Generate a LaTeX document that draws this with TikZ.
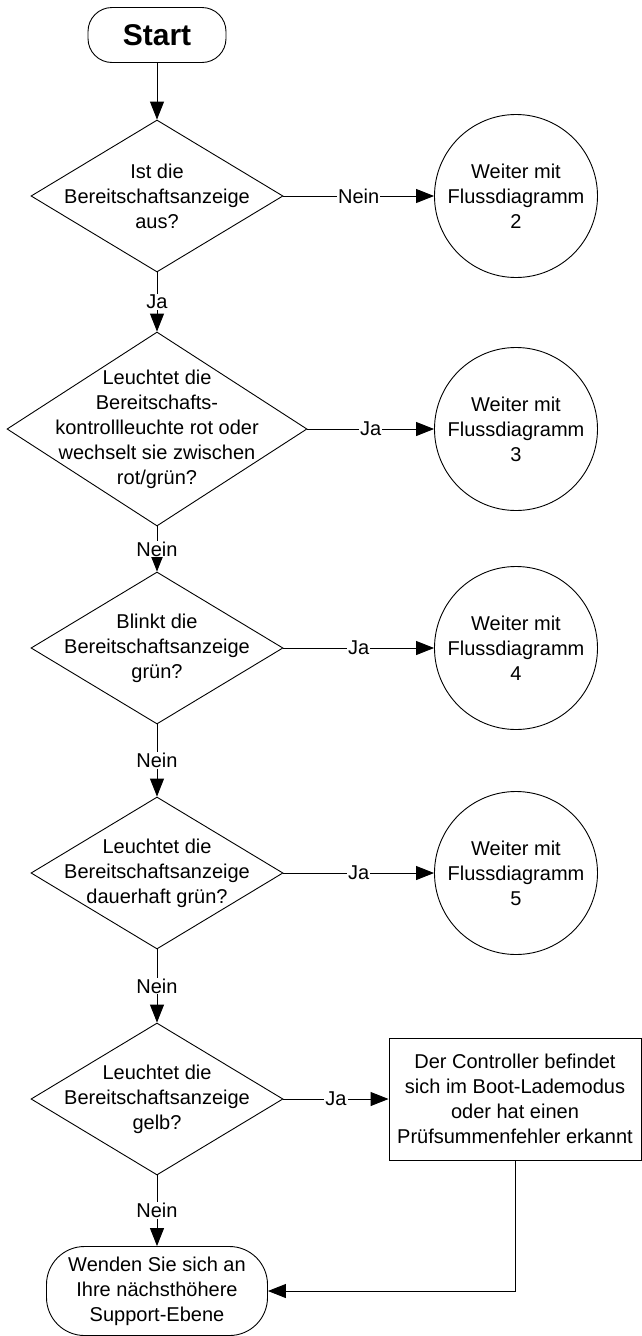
\documentclass[tikz,border=0pt]{standalone}
\usepackage{fontspec}
\setmainfont{Liberation Sans}
\usetikzlibrary{shapes.geometric,arrows.meta}

\begin{document}
\begin{tikzpicture}[x=1pt,y=-1pt,line width=0.9pt,
    font=\fontsize{20}{25}\selectfont,
    terminal/.style={draw,rounded corners=24pt,align=center,inner sep=0pt},
    decision/.style={draw,diamond,inner sep=0pt,minimum width=252pt,minimum height=152pt},
    qtext/.style={align=center,inner sep=0pt},
    flowref/.style={draw,circle,minimum size=163pt,inner sep=0pt,align=center},
    actionbox/.style={draw,rectangle,minimum width=252pt,minimum height=122pt,inner sep=0pt,align=center},
    arrowline/.style={-{Triangle[length=18pt,width=14pt]}},
    answer/.style={midway,fill=white,inner sep=1pt}]
    \useasboundingbox (0,0) rectangle (642,1336);

    % Start und Abfragen
    \node[terminal,minimum width=138pt,minimum height=55pt,font=\fontsize{30}{34}\selectfont\bfseries] (start) at (157,35) {Start};

    \node[decision] (d1) at (157,196) {};
    \node[qtext] (q1) at (d1) {Ist die\\Bereitschaftsanzeige\\aus?};

    \node[decision,minimum width=300pt,minimum height=194pt] (d2) at (157,429) {};
    \node[qtext] (q2) at (d2) {Leuchtet die\\Bereitschafts-\\kontrollleuchte rot oder\\wechselt sie zwischen\\rot/grün?};

    \node[decision] (d3) at (157,648) {};
    \node[qtext] (q3) at (d3) {Blinkt die\\Bereitschaftsanzeige\\grün?};

    \node[decision] (d4) at (157,873) {};
    \node[qtext] (q4) at (d4) {Leuchtet die\\Bereitschaftsanzeige\\dauerhaft grün?};

    \node[decision] (d5) at (157,1099) {};
    \node[qtext] (q5) at (d5) {Leuchtet die\\Bereitschaftsanzeige\\gelb?};

    \node[terminal,rounded corners=38pt,minimum width=221pt,minimum height=89pt] (ende) at (157,1291) {Wenden Sie sich an\\Ihre nächsthöhere\\Support-Ebene};

    % Verweise rechts
    \node[flowref] (c2) at (516,196) {Weiter mit\\Flussdiagramm\\2};
    \node[flowref] (c3) at (516,429) {Weiter mit\\Flussdiagramm\\3};
    \node[flowref] (c4) at (516,648) {Weiter mit\\Flussdiagramm\\4};
    \node[flowref] (c5) at (516,873) {Weiter mit\\Flussdiagramm\\5};
    \node[actionbox] (boot) at (515,1099) {Der Controller befindet\\sich im Boot-Lademodus\\oder hat einen\\Prüfsummenfehler erkannt};

    % Verbindungen
    \draw[arrowline] (start.south) -- (d1.north);
    \draw[arrowline] (d1.east) -- node[answer]{Nein} (c2.west);
    \draw[arrowline] (d1.south) -- node[answer]{Ja} (d2.north);
    \draw[arrowline] (d2.east) -- node[answer]{Ja} (c3.west);
    \draw[arrowline] (d2.south) -- node[answer]{Nein} (d3.north);
    \draw[arrowline] (d3.east) -- node[answer]{Ja} (c4.west);
    \draw[arrowline] (d3.south) -- node[answer]{Nein} (d4.north);
    \draw[arrowline] (d4.east) -- node[answer]{Ja} (c5.west);
    \draw[arrowline] (d4.south) -- node[answer]{Nein} (d5.north);
    \draw[arrowline] (d5.east) -- node[answer]{Ja} (boot.west);
    \draw[arrowline] (d5.south) -- node[answer]{Nein} (ende.north);
    \draw[arrowline] (boot.south) |- (ende.east);
\end{tikzpicture}
\end{document}
